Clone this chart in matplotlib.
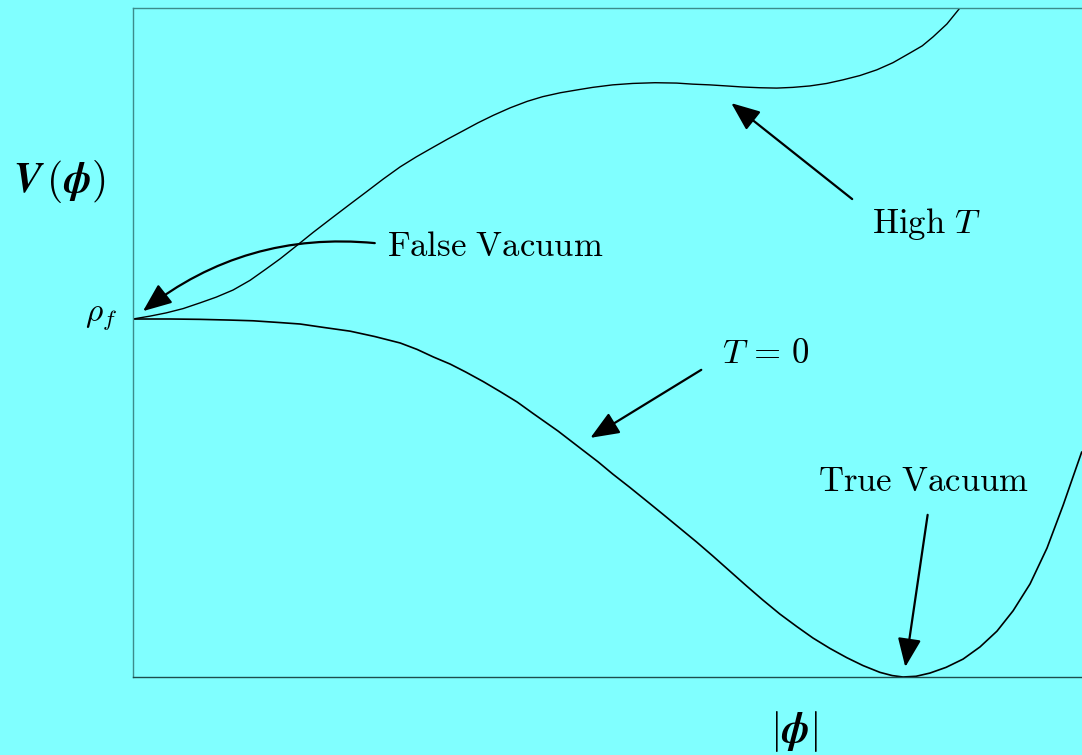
import matplotlib
matplotlib.use("Agg")
import matplotlib.pyplot as plt

plt.rcParams['mathtext.fontset'] = 'cm'

# ---- data (phi normalised so the true vacuum sits at 1, V so rho_f = 0 and true-vacuum depth = -1)
phi_T0 = [0.000, 0.048, 0.087, 0.126, 0.156, 0.191, 0.217, 0.249, 0.282, 0.314,
          0.347, 0.369, 0.390, 0.412, 0.432, 0.455, 0.477, 0.499, 0.519, 0.552,
          0.584, 0.604, 0.623, 0.645, 0.668, 0.688, 0.710, 0.732, 0.753, 0.775,
          0.797, 0.818, 0.840, 0.862, 0.883, 0.905, 0.927, 0.948, 0.970, 0.986,
          1.000, 1.017, 1.035, 1.056, 1.078, 1.100, 1.122, 1.143, 1.165, 1.187,
          1.208, 1.219, 1.232]
V_T0 = [0.000, 0.000, -0.001, -0.003, -0.005, -0.010, -0.014, -0.024, -0.034, -0.049,
        -0.067, -0.085, -0.106, -0.126, -0.148, -0.175, -0.203, -0.232, -0.263, -0.313,
        -0.366, -0.399, -0.433, -0.470, -0.510, -0.545, -0.584, -0.623, -0.662, -0.704,
        -0.746, -0.785, -0.824, -0.859, -0.891, -0.920, -0.946, -0.968, -0.987, -0.996,
        -1.000, -0.998, -0.989, -0.973, -0.950, -0.916, -0.872, -0.815, -0.740, -0.640,
        -0.520, -0.452, -0.372]

phi_highT = [0.000, 0.022, 0.043, 0.065, 0.087, 0.108, 0.130, 0.152, 0.173, 0.191,
             0.208, 0.234, 0.260, 0.282, 0.303, 0.325, 0.347, 0.368, 0.390, 0.409,
             0.429, 0.448, 0.468, 0.490, 0.512, 0.532, 0.555, 0.577, 0.597, 0.623,
             0.649, 0.678, 0.706, 0.727, 0.749, 0.771, 0.792, 0.814, 0.836, 0.857,
             0.879, 0.901, 0.922, 0.944, 0.966, 0.987, 1.009, 1.025, 1.039, 1.057,
             1.074]
V_highT = [0.000, 0.008, 0.017, 0.029, 0.045, 0.061, 0.081, 0.108, 0.140, 0.168,
           0.197, 0.242, 0.285, 0.321, 0.355, 0.391, 0.425, 0.453, 0.480, 0.503,
           0.526, 0.548, 0.569, 0.590, 0.608, 0.621, 0.632, 0.640, 0.647, 0.654,
           0.658, 0.660, 0.659, 0.656, 0.654, 0.651, 0.648, 0.646, 0.645, 0.647,
           0.651, 0.658, 0.668, 0.680, 0.696, 0.716, 0.743, 0.763, 0.788, 0.824,
           0.869]

labels = {
    'false': r'$\mathrm{False\ Vacuum}$',
    'high': r'$\mathrm{High}\ T$',
    't0': r'$T\,=\,0$',
    'true': r'$\mathrm{True\ Vacuum}$',
    'rho': r'$\rho_f$',
    'ylab': r'$\boldsymbol{V}\,(\boldsymbol{\phi})$',
    'xlab': r'$|\boldsymbol{\phi}|$',
}

BG = '#80ffff'
W, H = 1082, 755
fig = plt.figure(figsize=(W / 100, H / 100), dpi=100, facecolor=BG)
ax = fig.add_axes([133 / W, (H - 677) / H, (W - 133) / W, (677 - 8) / H])
ax.set_facecolor(BG)

ax.plot(phi_T0, V_T0, color='black', lw=1.2, solid_joinstyle='round')
ax.plot(phi_highT, V_highT, color='black', lw=1.0, solid_joinstyle='round')

ax.set_xlim(0, (W - 133) / 770)
ax.set_ylim(-1.0, (319 - 8) / 358)
ax.set_xticks([])
ax.set_yticks([])
ax.spines['right'].set_visible(False)
ax.spines['left'].set_color('#3c8c8c')
ax.spines['top'].set_color('#3c8c8c')
ax.spines['bottom'].set_color('#1e4d4d')
for s in ax.spines.values():
    s.set_linewidth(1.0)

fs = 25
ax.text(0.330, 0.176, labels['false'], fontsize=fs, va='baseline', ha='left')
ax.text(0.960, 0.240, labels['high'], fontsize=fs, va='baseline', ha='left')
ax.text(0.765, -0.123, labels['t0'], fontsize=fs, va='baseline', ha='left')
ax.text(0.890, -0.480, labels['true'], fontsize=fs, va='baseline', ha='left')
ax.text(-0.021, -0.003, labels['rho'], fontsize=24, va='baseline', ha='right')

fig.text(13 / W, 1 - 192 / H, labels['ylab'], fontsize=30, va='baseline', ha='left')
fig.text(794 / W, 1 - 732 / H, labels['xlab'], fontsize=30, va='center', ha='center')

arrow = dict(arrowstyle='-|>,head_length=1.1,head_width=0.45', color='black',
             lw=1.6, shrinkA=0, shrinkB=0, mutation_scale=16)
ax.annotate('', xy=(0.013, 0.022), xytext=(0.314, 0.212),
            arrowprops=dict(arrow, connectionstyle='arc3,rad=0.2'))
ax.annotate('', xy=(0.777, 0.603), xytext=(0.934, 0.335), arrowprops=arrow)
ax.annotate('', xy=(0.594, -0.332), xytext=(0.738, -0.142), arrowprops=arrow)
ax.annotate('', xy=(1.003, -0.972), xytext=(1.032, -0.547), arrowprops=arrow)

fig.savefig('out.png', dpi=100, facecolor=BG)
